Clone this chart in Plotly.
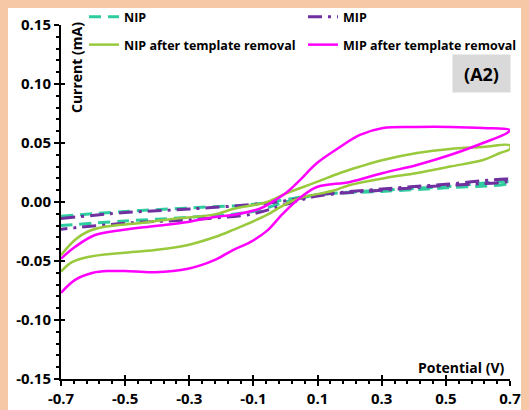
import plotly.graph_objects as go

# Cyclic voltammograms: potential (V) vs current (mA); each loop runs
# forward from -0.7 V to 0.7 V then back to -0.7 V.
nip_potential = [-0.7, -0.5, -0.3, -0.1, 0.0, 0.1, 0.3, 0.5, 0.7,
                 0.7, 0.5, 0.3, 0.1, 0.0, -0.1, -0.3, -0.5, -0.7]
nip_current = [-0.012, -0.008, -0.005, -0.002, 0.002, 0.006, 0.010, 0.013, 0.017,
               0.016, 0.012, 0.009, 0.006, 0.000, -0.008, -0.013, -0.016, -0.020]

mip_potential = [-0.7, -0.5, -0.3, -0.1, 0.0, 0.1, 0.3, 0.5, 0.7,
                 0.7, 0.5, 0.3, 0.1, 0.0, -0.1, -0.3, -0.5, -0.7]
mip_current = [-0.014, -0.009, -0.006, -0.002, 0.001, 0.006, 0.011, 0.015, 0.019,
               0.018, 0.014, 0.010, 0.005, -0.002, -0.010, -0.015, -0.018, -0.023]

nip_tr_potential = [-0.7, -0.656, -0.616, -0.563, -0.46, -0.354, -0.22, -0.164, -0.058,
                    0.005, 0.098, 0.17, 0.232, 0.304, 0.41, 0.513, 0.616, 0.7,
                    0.7, 0.669, 0.616, 0.513, 0.41, 0.304, 0.201, 0.148, 0.045,
                    -0.008, -0.058, -0.164, -0.22, -0.304, -0.407, -0.51, -0.616,
                    -0.666, -0.7]
nip_tr_current = [-0.045, -0.032, -0.025, -0.021, -0.018, -0.0144, -0.0105, -0.006, 0.0,
                  0.0076, 0.017, 0.0246, 0.030, 0.0356, 0.0415, 0.045, 0.0466, 0.048,
                  0.045, 0.0415, 0.0356, 0.030, 0.0246, 0.020, 0.0144, 0.0095, 0.0034,
                  -0.003, -0.011, -0.0237, -0.0297, -0.0364, -0.0407, -0.0432, -0.0466,
                  -0.051, -0.059]

mip_tr_potential = [-0.7, -0.656, -0.594, -0.51, -0.407, -0.304, -0.22, -0.164, -0.079,
                    -0.039, 0.005, 0.045, 0.098, 0.17, 0.232, 0.304, 0.41, 0.513,
                    0.616, 0.7,
                    0.691, 0.616, 0.513, 0.41, 0.304, 0.201, 0.098, 0.045, -0.008,
                    -0.058, -0.11, -0.164, -0.22, -0.304, -0.407, -0.5, -0.55, -0.6,
                    -0.656, -0.7]
mip_tr_current = [-0.048, -0.038, -0.028, -0.0237, -0.0203, -0.0169, -0.0127, -0.011, -0.0055,
                  0.0005, 0.0085, 0.0186, 0.033, 0.0466, 0.0568, 0.0627, 0.0636, 0.0636,
                  0.0627, 0.061,
                  0.0585, 0.050, 0.0398, 0.0314, 0.0246, 0.017, 0.0127, 0.0034, -0.0098,
                  -0.0245, -0.034, -0.0407, -0.049, -0.0565, -0.0595, -0.0585, -0.0585, -0.060,
                  -0.066, -0.077]

x_ticks = [-0.7, -0.5, -0.3, -0.1, 0.1, 0.3, 0.5, 0.7]
y_ticks = [-0.15, -0.10, -0.05, 0.00, 0.05, 0.10, 0.15]

FONT = "Open Sans"
W, H = 529, 410
ML, MR, MT, MB = 61, 19, 25, 31
PW, PH = W - ML - MR, H - MT - MB


def px_x(p):
    return (p - ML) / PW


def px_y(p):
    return (H - MB - p) / PH


fig = go.Figure()

fig.add_trace(go.Scatter(x=nip_potential, y=nip_current, mode="lines", name="NIP",
                         line=dict(color="#2ECC9E", width=3, dash="12px,7px", shape="spline"),
                         legend="legend"))
fig.add_trace(go.Scatter(x=mip_potential, y=mip_current, mode="lines", name="MIP",
                         line=dict(color="#7030A0", width=3, dash="14px,6px,3px,6px", shape="spline"),
                         legend="legend"))
fig.add_trace(go.Scatter(x=nip_tr_potential, y=nip_tr_current, mode="lines",
                         name="NIP after template removal",
                         line=dict(color="#99C93C", width=2.5, shape="spline"),
                         legend="legend2"))
fig.add_trace(go.Scatter(x=mip_tr_potential, y=mip_tr_current, mode="lines",
                         name="MIP after template removal",
                         line=dict(color="#FF00FF", width=2.5, shape="spline"),
                         legend="legend2"))
# empty trace that carries the overlay axes (inner half of crossing ticks)
fig.add_trace(go.Scatter(x=[None], y=[None], xaxis="x2", yaxis="y2", showlegend=False))

tickfont = dict(family=FONT, size=15, color="black", weight="bold")
legfont = dict(family=FONT, size=12.5, color="black", weight="bold")

axis_common = dict(showgrid=False, zeroline=False, showline=True, linecolor="black",
                   linewidth=2, ticks="outside", ticklen=5, tickwidth=2, tickcolor="black",
                   automargin=False)

legend_common = dict(orientation="h", xanchor="left", yanchor="middle",
                     entrywidth=174, font=legfont, bgcolor="rgba(0,0,0,0)",
                     itemwidth=30, traceorder="normal")

fig.update_layout(
    width=W, height=H,
    margin=dict(l=ML, r=MR, t=MT, b=MB, autoexpand=False),
    paper_bgcolor="white", plot_bgcolor="white",
    xaxis=dict(range=[-0.7, 0.7], tickvals=x_ticks,
               ticktext=[f"{v:.1f}" for v in x_ticks], tickfont=tickfont,
               minor=dict(dtick=0.04, tick0=-0.7, ticks="outside", ticklen=3,
                          tickwidth=1.5, tickcolor="black"),
               **axis_common),
    yaxis=dict(range=[-0.15, 0.15], tickvals=y_ticks,
               ticktext=[f"{v:.2f}" for v in y_ticks], tickfont=tickfont,
               minor=dict(dtick=0.01, tick0=-0.15, ticks="outside", ticklen=3,
                          tickwidth=1.5, tickcolor="black"),
               **axis_common),
    xaxis2=dict(range=[-0.7, 0.7], overlaying="x", anchor="y2", side="bottom",
                tickvals=x_ticks, showticklabels=False, ticks="inside", ticklen=4,
                tickwidth=2, tickcolor="black", showgrid=False, zeroline=False,
                showline=False),
    yaxis2=dict(range=[-0.15, 0.15], overlaying="y", anchor="x2", side="left",
                tickvals=y_ticks, showticklabels=False, ticks="inside", ticklen=4,
                tickwidth=2, tickcolor="black", showgrid=False, zeroline=False,
                showline=False),
    legend=dict(x=px_x(84), y=px_y(17), **legend_common),
    legend2=dict(x=px_x(84), y=px_y(45), **legend_common),
    showlegend=True,
)

# axis titles placed inside the plotting area
fig.add_annotation(text="Current (mA)", xref="paper", yref="paper",
                   x=px_x(76), y=px_y(68), xanchor="center", yanchor="middle",
                   textangle=-90, showarrow=False,
                   font=dict(family=FONT, size=14, color="black", weight="bold"))
fig.add_annotation(text="Potential (V)", xref="paper", yref="paper",
                   x=px_x(461), y=px_y(367), xanchor="center", yanchor="middle",
                   showarrow=False,
                   font=dict(family=FONT, size=14, color="black", weight="bold"))
# panel label in a grey box
fig.add_annotation(text="(A2)", xref="paper", yref="paper",
                   x=px_x(511), xanchor="right", y=px_y(73), yanchor="middle",
                   width=55, height=35, bgcolor="#D9D9D9", showarrow=False,
                   font=dict(family=FONT, size=18, color="black", weight="bold"))

# peach frame along the left, top and right edges
peach = "#F7C8A6"
frame = [
    (0, 0, 8, H),
    (0, 0, W, 8),
    (521, 0, W, H),
]
for x0, y0, x1, y1 in frame:
    fig.add_shape(type="rect", xref="paper", yref="paper",
                  x0=px_x(x0), x1=px_x(x1), y0=px_y(y1), y1=px_y(y0),
                  fillcolor=peach, line_width=0, layer="below")

fig.write_html("out.html")
